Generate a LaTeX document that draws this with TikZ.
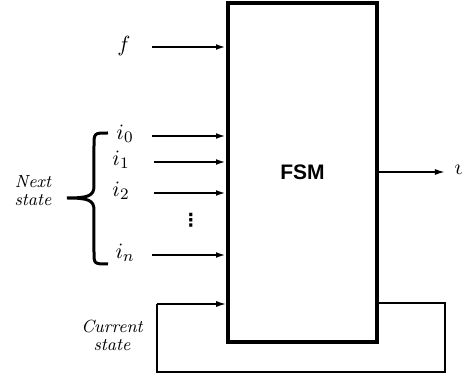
\documentclass[tikz,border=0pt]{standalone}
\usepackage{fontspec}
\newfontfamily\boxfont{Liberation Sans}
\newfontfamily\symfont{DejaVu Sans}
\usetikzlibrary{arrows.meta}
\begin{document}
\begin{tikzpicture}[x=0.5pt,y=-0.5pt,
  lbl/.style={inner sep=0pt,font=\fontsize{11}{12}\selectfont},
  note/.style={inner sep=0pt,align=center,font=\fontsize{8.8}{10}\selectfont\itshape},
  inarrow/.style={line width=1pt,-{Latex[length=5pt,width=2.8pt]}},
  wire/.style={line width=0.8pt}]
\useasboundingbox (0,0) rectangle (462,379);
\node[draw,line width=1.8pt,minimum width=74.5pt,minimum height=169.5pt,inner sep=0pt,
  font=\boxfont\bfseries\fontsize{10.5}{12}\selectfont] (fsm) at (302.5,172.5) {FSM};
% input labels
\node[lbl] (f) at (124,46) {$f$};
\node[lbl] (i0) at (125,134) {$i_0$};
\node[lbl] (i1) at (121,160) {$i_1$};
\node[lbl] (i2) at (121,191) {$i_2$};
\node[lbl] (in) at (125,253) {$i_n$};
\node[inner sep=0pt,font=\symfont\bfseries\fontsize{9}{10}\selectfont] (dots) at (191,220) {⋮};
% arrow starts
\coordinate (sf) at (152,47);
\coordinate (s0) at (152,136);
\coordinate (s1) at (154,162);
\coordinate (s2) at (154,193);
\coordinate (sn) at (152,255);
\draw[inarrow] (sf) -- (sf -| fsm.west);
\draw[inarrow] (s0) -- (s0 -| fsm.west);
\draw[inarrow] (s1) -- (s1 -| fsm.west);
\draw[inarrow] (s2) -- (s2 -| fsm.west);
\draw[inarrow] (sn) -- (sn -| fsm.west);
% brace
\draw[line width=1.5pt] (108,133) .. controls (94,133) .. (94,146) -- (94,186)
  .. controls (94,196) and (88,198) .. (67,198)
  .. controls (88,198) and (94,200) .. (94,210) -- (94,252)
  .. controls (94,264) .. (108,264);
\node[note] (next) at (33,191) {Next\\[-1pt]state};
% output
\coordinate (out) at (445,172);
\draw[wire,-{Latex[length=5pt,width=3pt]}] (out -| fsm.east) -- (out);
\node[lbl,anchor=west] (u) at (454,170) {$u$};
% feedback
\coordinate (fbR) at (445,303);
\coordinate (fbB) at (157,372);
\coordinate (fbL) at (157,304);
\draw[wire] (fbR -| fsm.east) -- (fbR) |- (fbB) -- (fbL);
\draw[wire,-{Latex[length=5pt,width=3pt]}] (fbL) -- (fbL -| fsm.west);
\node[note] (cur) at (112,335) {Current\\[-1pt]state};
\end{tikzpicture}
\end{document}
